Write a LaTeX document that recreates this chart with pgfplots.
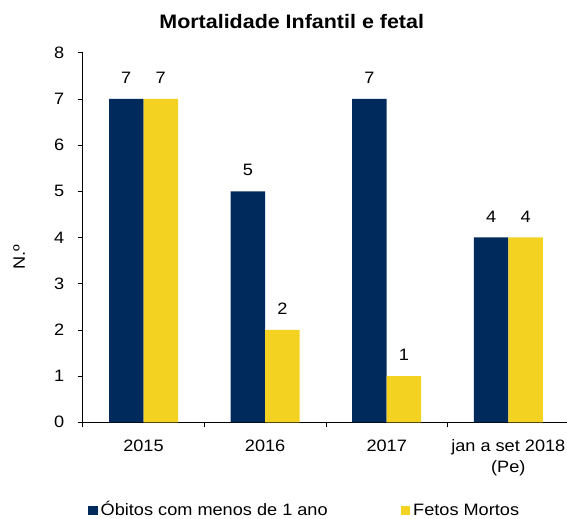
\documentclass[border=0pt]{standalone}
\usepackage{fontspec}
\setmainfont{Liberation Sans}[FakeStretch=1.1]
\usepackage{pgfplots}
\pgfplotsset{compat=1.18}
\definecolor{navy}{RGB}{0,41,92}
\definecolor{gold}{RGB}{244,210,34}
\newcommand{\lab}{\fontsize{16.5bp}{21bp}\selectfont}
\begin{document}
\begin{tikzpicture}
\begin{axis}[
  at={(82.7bp,96.7bp)}, anchor=south west,
  x=121.6bp, y=46.2bp,
  xmin=-0.5, xmax=3.5, ymin=0, ymax=8,
  axis x line=bottom, axis y line=left,
  axis line style={-, black, line width=0.6bp},
  /pgf/number format/assume math mode=true,
  ytick={0,1,...,8},
  tick align=outside, major tick length=5bp,
  tick style={black, line width=0.6bp},
  ticklabel style={font=\lab},
  yticklabel style={xshift=-10bp},
  xtick={-0.5,0.5,1.5,2.5}, xticklabels={},
  extra x ticks={0,1,2,3},
  extra x tick labels={2015,2016,2017,{jan a set 2018\\(Pe)}},
  extra x tick style={major tick length=0pt,
     xticklabel style={align=center, anchor=north, yshift=-14bp}},
  ylabel={N.º},
  ylabel style={font=\lab, at={(axis description cs:-0.131,0.446)}, anchor=center},
  ybar, bar width=34.5bp,
  nodes near coords,
  nodes near coords style={font=\lab, anchor=south, inner sep=0pt, yshift=15bp},
  legend columns=2,
  legend image code/.code={\fill[#1] (0bp,0bp) rectangle (9.5bp,9.5bp);},
  legend style={at={(axis description cs:0.0109,-0.2525)}, anchor=south west,
     draw=none, fill=none, font=\lab, inner sep=0pt,
     nodes={inner xsep=3bp, inner ysep=0pt, text depth=0pt, anchor=base west},
     /tikz/every even column/.append style={column sep=70bp}},
]
\addplot[fill=navy, draw=none, bar shift=-17.25bp] coordinates {(0,7) (1,5) (2,7) (3,4)};
\addlegendentry{Óbitos com menos de 1 ano}
\addplot[fill=gold, draw=none, bar shift=17.25bp] coordinates {(0,7) (1,2) (2,1) (3,4)};
\addlegendentry{Fetos Mortos}
\end{axis}
\node[font=\bfseries\fontsize{19.5bp}{23bp}\selectfont] at (291.7bp,497bp) {Mortalidade Infantil e fetal};
\pgfresetboundingbox
\path (0,0) rectangle (567bp,519bp);
\end{tikzpicture}
\end{document}
